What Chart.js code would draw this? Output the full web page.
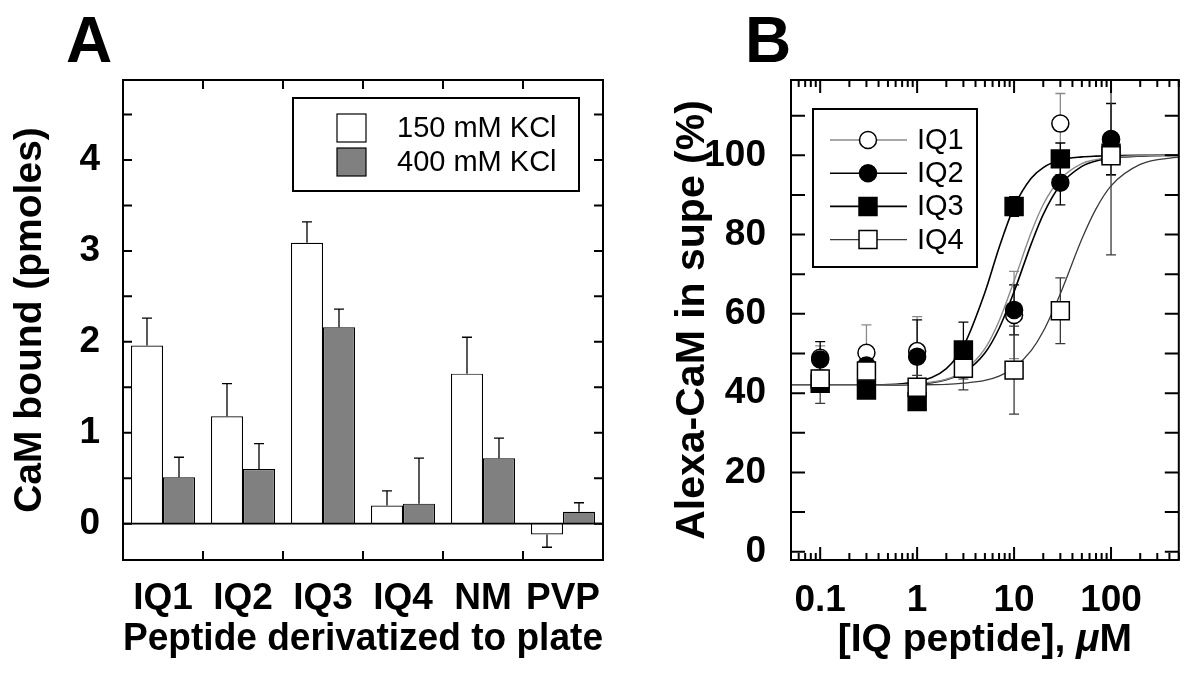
<!DOCTYPE html>
<html>
<head>
<meta charset="utf-8">
<script src="https://cdn.jsdelivr.net/npm/chart.js@4.4.1/dist/chart.umd.min.js"></script>
<style>
  html, body { margin: 0; padding: 0; background: #fff; }
  body { width: 1193px; height: 673px; position: relative; overflow: hidden; }
  .panel { position: absolute; top: 0; height: 673px; }
  #panelA { left: 0; width: 640px; }
  #panelB { left: 640px; width: 553px; }
  .letter { position: absolute; top: 8px; font: bold 64px/64px 'Liberation Sans', Arial, sans-serif; color: #000; }
</style>
</head>
<body>
<div class="panel" id="panelA"><canvas id="chartA"></canvas></div>
<div class="panel" id="panelB"><canvas id="chartB"></canvas></div>
<div class="letter" style="left:66px">A</div>
<div class="letter" style="left:745px">B</div>
<script>
// panel A - CaM bound to peptide coated plate
const peptides = ['IQ1', 'IQ2', 'IQ3', 'IQ4', 'NM', 'PVP'];
const saltLabels = ['150 mM KCl', '400 mM KCl'];
const bound150 = [1.96, 1.18, 3.09, 0.20, 1.65, -0.12];
const bound150Err = [0.30, 0.36, 0.23, 0.16, 0.40, 0.14];
const bound400 = [0.51, 0.60, 2.16, 0.22, 0.72, 0.13];
const bound400Err = [0.22, 0.28, 0.20, 0.50, 0.22, 0.10];
const boundTicks = [0, 1, 2, 3, 4];

// panel B - Alexa-CaM left in supernatant
const iqNames = ['IQ1', 'IQ2', 'IQ3', 'IQ4'];
const conc = [0.1, 0.3, 1, 3, 10, 30, 100];
const supeIQ1 = [48.9, 50.2, 50.6, 46.5, 59.7, 108.0, 104.0];
const supeIQ2 = [48.5, 47.0, 49.2, 46.0, 61.0, 93.1, 104.1];
const supeIQ3 = [42.5, 40.8, 37.9, 50.9, 87.1, 99.1, 100.5];
const supeIQ4 = [43.6, 45.6, 41.5, 46.3, 45.8, 60.8, 99.9];
const errIQ1 = [3.0, 7.0, 8.7, 3.0, 11.0, 7.6, 9.0];
const errIQ2 = [4.5, 2.0, 9.3, 2.0, 6.3, 5.6, 9.0];
const errIQ3 = [2.0, 1.5, 1.5, 7.0, 2.5, 4.0, 1.5];
const errIQ4 = [6.2, 3.0, 3.0, 5.5, 11.1, 8.3, 25.0];

// fitted curves
const curveConc = [0.05, 0.1, 0.3, 1, 2, 3, 5, 7, 10, 15, 20, 30, 50, 70, 100, 200, 500];
const fitIQ1 = [42, 42, 42, 42.4, 43.5, 45.5, 51.2, 58.2, 68.3, 80.5, 87.6, 94.0, 97.9, 98.9, 99.5, 99.9, 100];
const fitIQ2 = [42, 42, 42, 42.3, 43.4, 45.1, 50.1, 56.3, 65.6, 77.6, 85.1, 92.5, 97.2, 98.6, 99.3, 99.8, 100];
const fitIQ3 = [42, 42, 42, 42.9, 46.2, 51.8, 65.4, 76.7, 87.0, 94.2, 96.9, 98.8, 99.6, 99.8, 99.9, 100, 100];
const fitIQ4 = [42, 42, 42, 42.1, 42.2, 42.5, 43.2, 44.3, 46.4, 50.7, 55.6, 65.1, 78.9, 86.5, 92.3, 97.7, 99.6];

const concTicks = [0.1, 1, 10, 100];
const concTickLabels = ['0.1', '1', '10', '100'];
const supeTicks = [0, 20, 40, 60, 80, 100];

const FONT = "'Liberation Sans', Arial, sans-serif";
Chart.defaults.font.family = FONT;
Chart.defaults.color = '#000';

const tickFont = { size: 37, weight: 'bold' };
const titleFont = { size: 39, weight: 'bold' };

function drawFrame(ctx, a) {
    ctx.lineWidth = 2;
    ctx.strokeStyle = '#000';
    ctx.strokeRect(a.left, a.top, a.right - a.left, a.bottom - a.top);
}

const panelADecor = {
    id: 'panelADecor',
    afterDatasetsDraw(chart) {
        const { ctx, chartArea: a } = chart;
        const y = chart.scales.y;
        ctx.save();
        ctx.strokeStyle = '#000';
        ctx.lineWidth = 1.3;
        [bound150Err, bound400Err].forEach((errs, di) => {
            const vals = chart.data.datasets[di].data;
            chart.getDatasetMeta(di).data.forEach((bar, i) => {
                const v = vals[i];
                const yEnd = y.getPixelForValue(v + Math.sign(v) * errs[i]);
                ctx.beginPath();
                ctx.moveTo(bar.x, bar.y);
                ctx.lineTo(bar.x, yEnd);
                ctx.moveTo(bar.x - 5, yEnd);
                ctx.lineTo(bar.x + 5, yEnd);
                ctx.stroke();
            });
        });
        const y0 = y.getPixelForValue(0);
        ctx.lineWidth = 1.6;
        ctx.beginPath();
        ctx.moveTo(a.left, y0);
        ctx.lineTo(a.right, y0);
        ctx.stroke();
        ctx.restore();
    },
    afterDraw(chart) {
        const { ctx, chartArea: a } = chart;
        const x = chart.scales.x, y = chart.scales.y;
        ctx.save();
        drawFrame(ctx, a);
        ctx.beginPath();
        for (let v = 0; v <= 4.5; v += 0.5) {
            const py = y.getPixelForValue(v);
            ctx.moveTo(a.left, py); ctx.lineTo(a.left + 9, py);
            ctx.moveTo(a.right, py); ctx.lineTo(a.right - 9, py);
        }
        for (let i = 0; i < peptides.length - 1; i++) {
            const px = (x.getPixelForValue(i) + x.getPixelForValue(i + 1)) / 2;
            ctx.moveTo(px, a.top); ctx.lineTo(px, a.top + 9);
            ctx.moveTo(px, a.bottom); ctx.lineTo(px, a.bottom - 9);
        }
        ctx.stroke();

        // legend
        const bx = a.left + 170, by = a.top + 18;
        ctx.strokeRect(bx, by, 286, 93);
        ctx.font = '29px ' + FONT;
        ctx.textBaseline = 'middle';
        ctx.fillStyle = '#000';
        chart.data.datasets.forEach((ds, i) => {
            const sy = a.top + 34 + i * 34;
            ctx.fillStyle = ds.backgroundColor;
            ctx.fillRect(a.left + 214, sy, 29, 28);
            ctx.lineWidth = 1.2;
            ctx.strokeRect(a.left + 214, sy, 29, 28);
            ctx.fillStyle = '#000';
            ctx.fillText(ds.label, a.left + 274, sy + 15);
        });
        ctx.restore();
    },
};

new Chart(document.getElementById('chartA'), {
    type: 'bar',
    data: {
        labels: peptides,
        datasets: [
            { label: saltLabels[0], data: bound150, backgroundColor: '#ffffff', borderColor: '#000', borderWidth: 1.2 },
            { label: saltLabels[1], data: bound400, backgroundColor: '#808080', borderColor: '#000', borderWidth: 1.2 },
        ],
    },
    options: {
        responsive: true,
        maintainAspectRatio: false,
        animation: false,
        layout: { padding: { top: 80, right: 37, left: 0, bottom: 0 } },
        datasets: { bar: { barPercentage: 1, categoryPercentage: 0.8 } },
        plugins: { legend: { display: false }, tooltip: { enabled: false } },
        scales: {
            x: {
                grid: { display: false },
                border: { display: false },
                ticks: { font: tickFont, padding: 9, maxRotation: 0, autoSkip: false },
                title: { display: true, text: 'Peptide derivatized to plate', font: titleFont, padding: { top: 0, bottom: 10 } },
                afterFit: (s) => { s.height = 113; },
            },
            y: {
                min: -0.4,
                max: 4.88,
                grid: { display: false },
                border: { display: false },
                afterBuildTicks: (s) => { s.ticks = boundTicks.map((v) => ({ value: v })); },
                ticks: { font: tickFont, padding: 15 },
                title: { display: true, text: 'CaM bound (pmoles)', font: titleFont, padding: { top: 7, bottom: 0 } },
                afterFit: (s) => { s.width = 123; },
            },
        },
    },
    plugins: [panelADecor],
});

// panel B
const supeSeries = [supeIQ1, supeIQ2, supeIQ3, supeIQ4];
const supeErrs = [errIQ1, errIQ2, errIQ3, errIQ4];
const fitSeries = [fitIQ1, fitIQ2, fitIQ3, fitIQ4];
const lineColors = ['#8a8a8a', '#000000', '#000000', '#3a3a3a'];
const lineWidths = [1.4, 1.6, 1.6, 1.3];
const markerStyles = ['circle', 'circle', 'rect', 'rect'];
const markerRadius = [8.5, 8.5, 12.7, 12.7];
const markerFill = ['#ffffff', '#000000', '#000000', '#ffffff'];

const markerSets = iqNames.map((name, k) => ({
    type: 'line',
    label: name,
    data: conc.map((c, i) => ({ x: c, y: supeSeries[k][i] })),
    showLine: false,
    pointStyle: markerStyles[k],
    pointRadius: markerRadius[k],
    pointBackgroundColor: markerFill[k],
    pointBorderColor: '#000',
    pointBorderWidth: 1.5,
    order: 3 - k,
}));
const curveSets = iqNames.map((name, k) => ({
    type: 'line',
    label: name + ' fit',
    data: curveConc.map((c, i) => ({ x: c, y: fitSeries[k][i] })),
    borderColor: lineColors[k],
    borderWidth: lineWidths[k],
    pointRadius: 0,
    cubicInterpolationMode: 'monotone',
    order: 10 + k,
}));

const panelBDecor = {
    id: 'panelBDecor',
    beforeDatasetsDraw(chart) {
        const { ctx, chartArea: a } = chart;
        const x = chart.scales.x, y = chart.scales.y;
        ctx.save();
        ctx.beginPath();
        ctx.rect(a.left, a.top, a.right - a.left, a.bottom - a.top);
        ctx.clip();
        supeErrs.forEach((errs, k) => {
            ctx.strokeStyle = lineColors[k];
            ctx.lineWidth = 1.3;
            ctx.beginPath();
            conc.forEach((c, i) => {
                const px = x.getPixelForValue(c);
                const hi = y.getPixelForValue(supeSeries[k][i] + errs[i]);
                const lo = y.getPixelForValue(supeSeries[k][i] - errs[i]);
                ctx.moveTo(px, hi); ctx.lineTo(px, lo);
                ctx.moveTo(px - 5, hi); ctx.lineTo(px + 5, hi);
                ctx.moveTo(px - 5, lo); ctx.lineTo(px + 5, lo);
            });
            ctx.stroke();
        });
        ctx.restore();
    },
    afterDraw(chart) {
        const { ctx, chartArea: a } = chart;
        const x = chart.scales.x, y = chart.scales.y;
        ctx.save();
        drawFrame(ctx, a);
        ctx.beginPath();
        for (let v = 0; v <= 110; v += 10) {
            const py = y.getPixelForValue(v);
            ctx.moveTo(a.left, py); ctx.lineTo(a.left + 14, py);
            ctx.moveTo(a.right, py); ctx.lineTo(a.right - 14, py);
        }
        for (let e = -2; e <= 2; e++) {
            for (let m = 1; m <= 9; m++) {
                const v = m * Math.pow(10, e);
                if (v < 0.05 || v > 500) continue;
                const px = x.getPixelForValue(v);
                const len = m === 1 ? 13 : 7;
                ctx.moveTo(px, a.top); ctx.lineTo(px, a.top + len);
                ctx.moveTo(px, a.bottom); ctx.lineTo(px, a.bottom - len);
            }
        }
        ctx.stroke();

        // legend
        const lx = a.left, ly = a.top;
        ctx.strokeRect(lx + 22, ly + 29, 164, 158);
        ctx.font = '29px ' + FONT;
        ctx.textBaseline = 'middle';
        iqNames.forEach((name, k) => {
            const ry = ly + 60 + k * 33.2;
            ctx.strokeStyle = lineColors[k];
            ctx.lineWidth = lineWidths[k];
            ctx.beginPath();
            ctx.moveTo(lx + 39, ry);
            ctx.lineTo(lx + 116, ry);
            ctx.stroke();
            ctx.fillStyle = markerFill[k];
            ctx.strokeStyle = '#000';
            ctx.lineWidth = 1.5;
            Chart.helpers.drawPoint(ctx, { pointStyle: markerStyles[k], radius: markerRadius[k], rotation: 0, borderWidth: 1.5 }, lx + 77, ry);
            ctx.fillStyle = '#000';
            ctx.fillText(name, lx + 126, ry + 1);
        });

        // x title with italic mu
        const parts = [['[IQ peptide], ', 'bold'], ['\u03bc', 'italic bold'], ['M', 'bold']];
        let total = 0;
        parts.forEach((p) => { ctx.font = p[1] + ' 39px ' + FONT; total += ctx.measureText(p[0]).width; });
        let tx = (a.left + a.right) / 2 - total / 2;
        ctx.fillStyle = '#000';
        ctx.textAlign = 'left';
        parts.forEach((p) => {
            ctx.font = p[1] + ' 39px ' + FONT;
            ctx.fillText(p[0], tx, 640);
            tx += ctx.measureText(p[0]).width;
        });
        ctx.restore();
    },
};

new Chart(document.getElementById('chartB'), {
    type: 'line',
    data: { datasets: [...markerSets, ...curveSets] },
    options: {
        responsive: true,
        maintainAspectRatio: false,
        animation: false,
        layout: { padding: { top: 80, right: 1, left: 0, bottom: 0 } },
        plugins: { legend: { display: false }, tooltip: { enabled: false } },
        scales: {
            x: {
                type: 'logarithmic',
                min: 0.05,
                max: 500,
                grid: { display: false },
                border: { display: false },
                afterBuildTicks: (s) => { s.ticks = concTicks.map((v) => ({ value: v })); },
                ticks: { font: tickFont, padding: 11, maxRotation: 0, autoSkip: false, callback: (v, i) => concTickLabels[i] },
                afterFit: (s) => { s.height = 113; },
            },
            y: {
                min: -2.1,
                max: 119,
                grid: { display: false },
                border: { display: false },
                afterBuildTicks: (s) => { s.ticks = supeTicks.map((v) => ({ value: v })); },
                ticks: { font: tickFont, padding: 17 },
                title: { display: true, text: 'Alexa-CaM in supe (%)', font: { size: 41, weight: 'bold' }, padding: { top: 28, bottom: 0 } },
                afterFit: (s) => { s.width = 151; },
            },
        },
    },
    plugins: [panelBDecor],
});
</script>
</body>
</html>
